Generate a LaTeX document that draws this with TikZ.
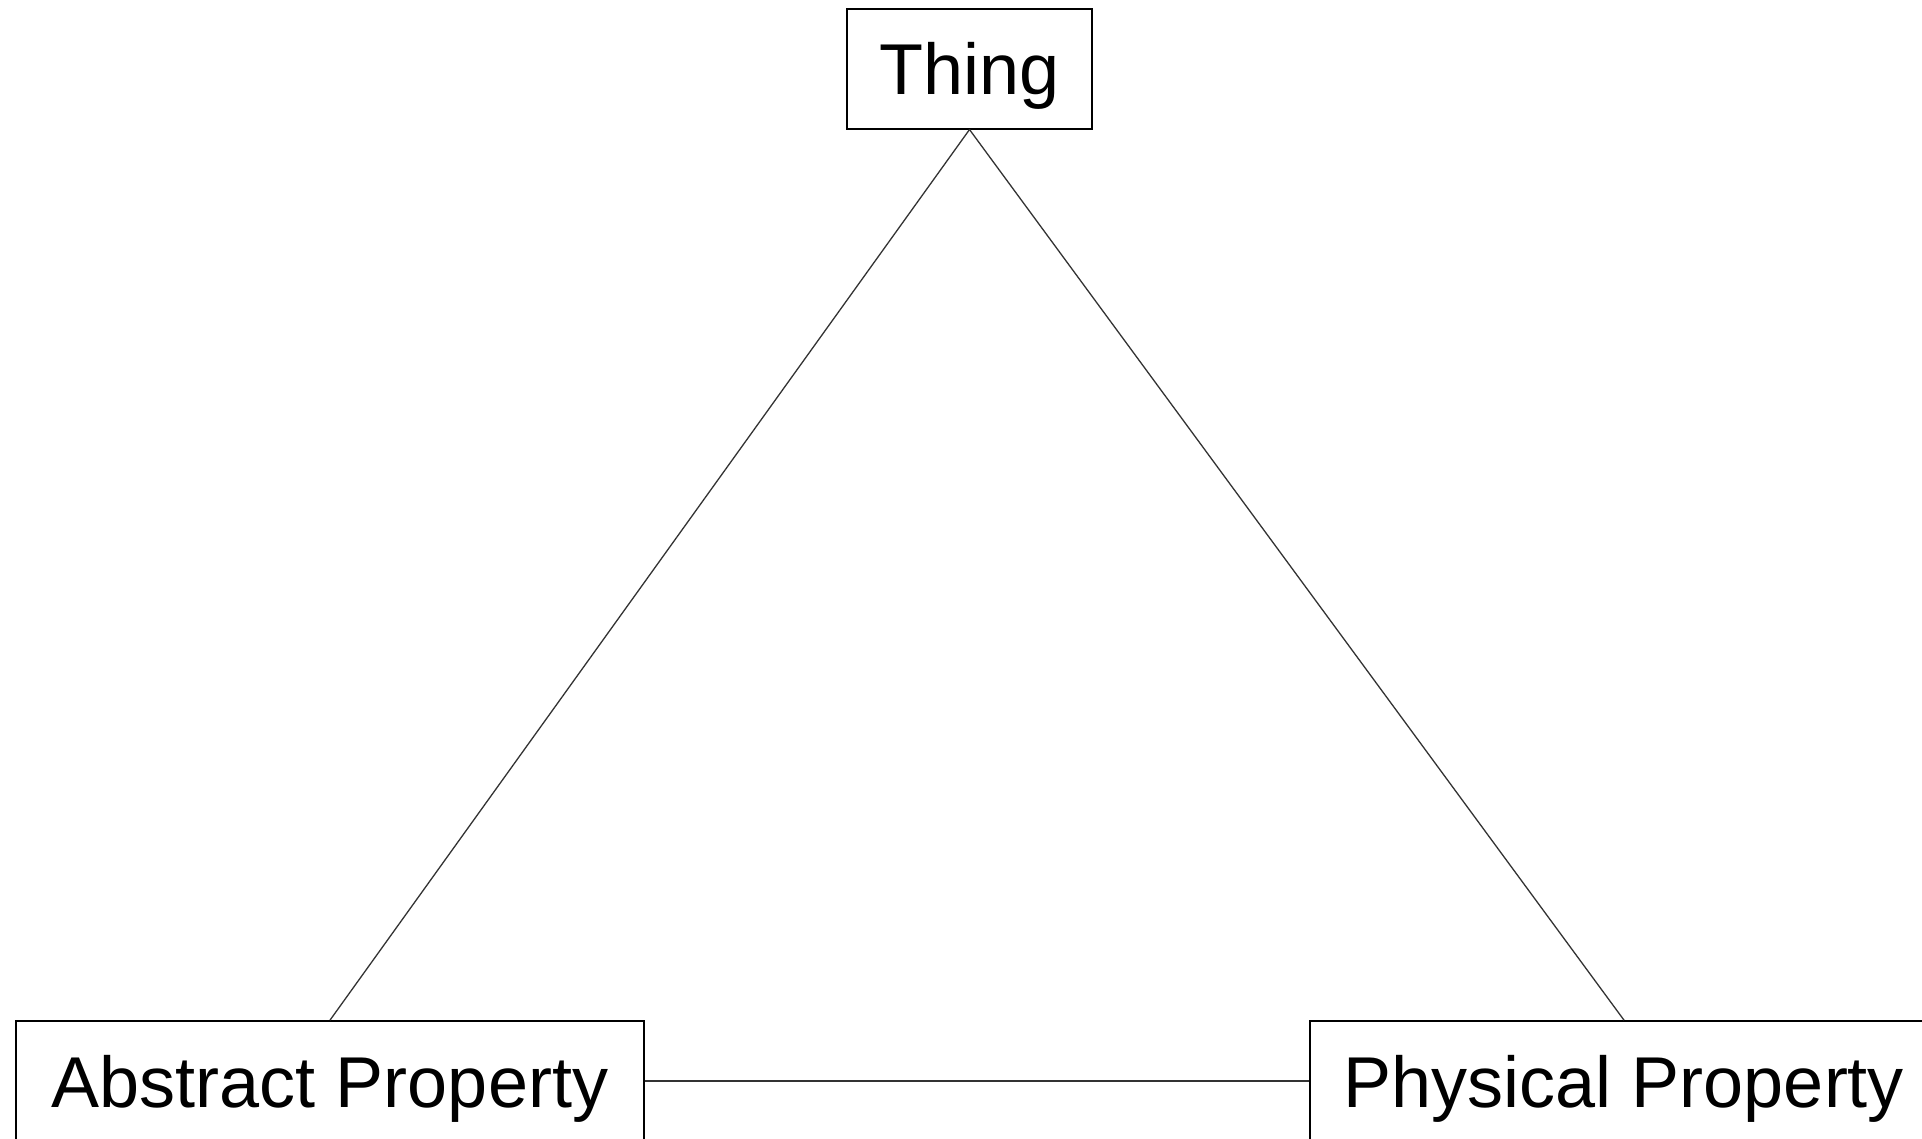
\documentclass[tikz,border=0pt]{standalone}
\usepackage{fontspec}
\setmainfont{Liberation Sans}
\tikzset{
  classbox/.style={draw=black, line width=1.7pt, fill=white, inner sep=0pt,
    minimum height=120pt, text height=52pt, text depth=0pt,
    font=\fontsize{72}{86}\selectfont},
  link/.style={draw=black!80, line width=1.3pt}
}
\begin{document}
\begin{tikzpicture}[x=1pt, y=-1pt]
\useasboundingbox (0,0) rectangle (1922,1138);
% Top concept
\node[classbox, minimum width=245pt] (thing) at (969.5, 68.7) {Thing};

% The two kinds of property
\node[classbox, minimum width=628pt] (abstract) at (330, 1081) {Abstract Property};
\node[classbox, minimum width=628pt] (physical) at (1624, 1081) {Physical Property};

% Links
\draw[link] (thing.south) -- (abstract.north);
\draw[link] (thing.south) -- (physical.north);
\draw[link] (abstract.east) -- (physical.west);
\end{tikzpicture}
\end{document}
